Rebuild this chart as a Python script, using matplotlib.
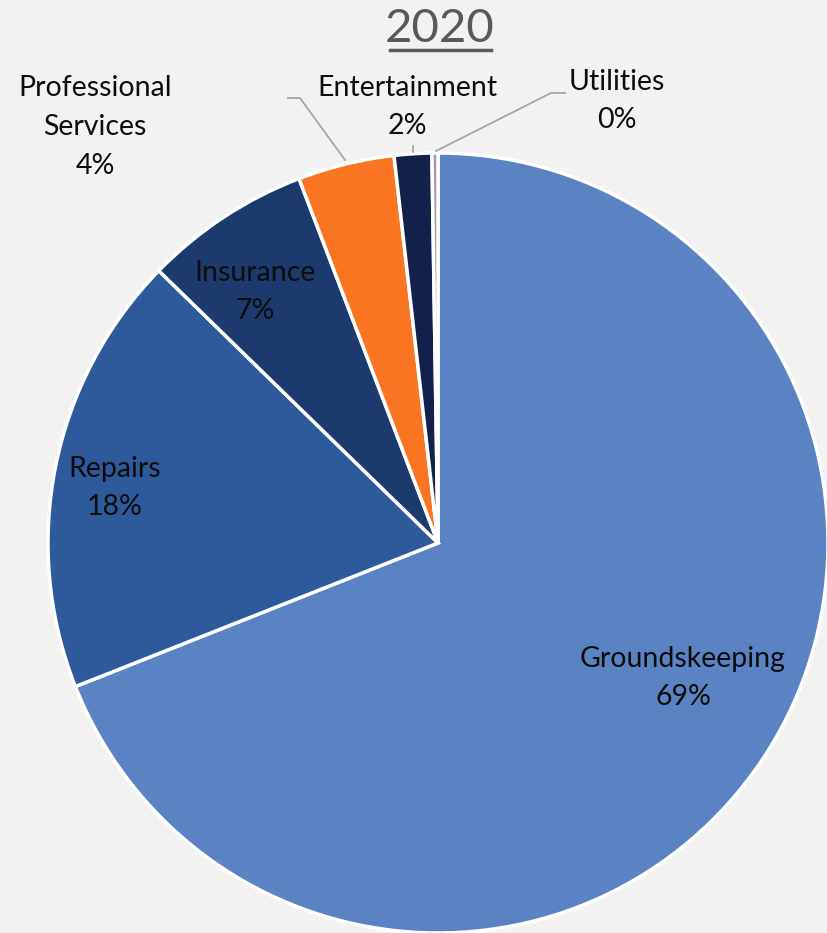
import matplotlib.pyplot as plt

categories = ["Groundskeeping", "Repairs", "Insurance", "Professional\nServices", "Entertainment", "Utilities"]
values = [69.0, 18.3, 6.9, 4.0, 1.55, 0.25]
pct_labels = ["69%", "18%", "7%", "4%", "2%", "0%"]
colors = ["#5B83C4", "#2E5A9C", "#1C3A6E", "#FA7521", "#13214A", "#A39AA6"]

# label centres in pixel coords (from top-left)
label_pos = [(683, 678), (115, 488), (255, 292), (95, 127), (407, 107), (617, 101)]

W, H = 828, 933
fig = plt.figure(figsize=(W / 100, H / 100), dpi=100, facecolor="#F2F2F2")
ax = fig.add_axes([0, 0, 1, 1])
ax.set_facecolor("#F2F2F2")

cx, cy, r = 438, H - 543, 390
ax.pie(values, colors=colors, startangle=90, counterclock=False,
       center=(cx, cy), radius=r, frame=True,
       wedgeprops=dict(edgecolor="white", linewidth=2.5))
ax.set_xlim(0, W)
ax.set_ylim(0, H)
ax.set_aspect("equal")
ax.axis("off")

font = "Lato"
for name, pct, (x, y) in zip(categories, pct_labels, label_pos):
    ax.text(x, H - y, name + "\n" + pct, ha="center", va="center",
            fontsize=20.5, family=font, color="#0D0D0D", linespacing=1.6)

# leader lines
lc = "#A6A6A6"
ax.plot([345, 300, 288], [H - 160, H - 98, H - 98], color=lc, lw=1.3)
ax.plot([413, 413], [H - 152, H - 146], color=lc, lw=1.3)
ax.plot([436, 551, 565], [H - 151, H - 93, H - 93], color=lc, lw=1.3)

# title with underline
ax.text(440, H - 29, "2020", ha="center", va="center", fontsize=34,
        family=font, color="#595959")
ax.plot([390, 491], [H - 50, H - 50], color="#595959", lw=2.5)

fig.savefig("out.png", dpi=100, facecolor=fig.get_facecolor())
